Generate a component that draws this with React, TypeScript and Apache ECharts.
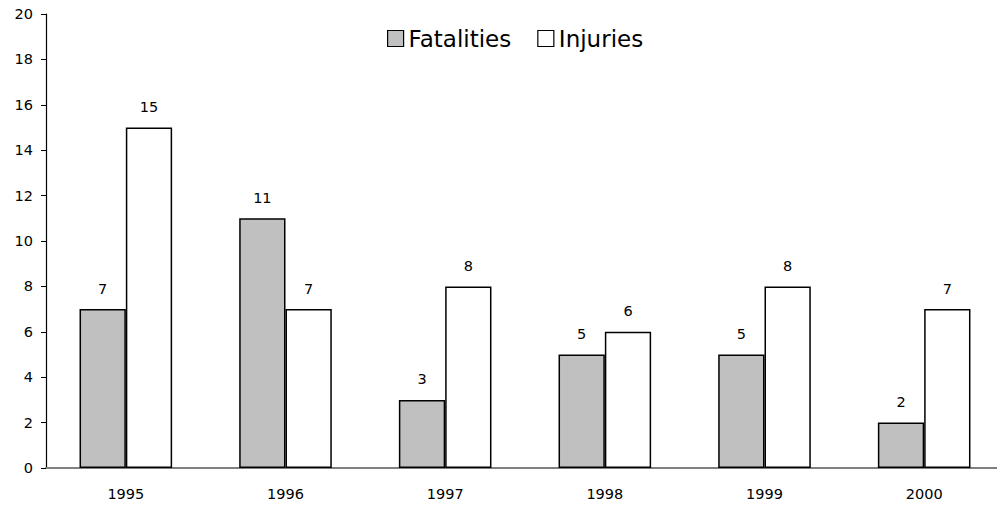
import React, { useEffect, useRef } from "react";
import * as echarts from "echarts";

const years = ["1995", "1996", "1997", "1998", "1999", "2000"];
const fatalities = [7, 11, 3, 5, 5, 2];
const injuries = [15, 7, 8, 6, 8, 7];

const FONT = "'DejaVu Sans', sans-serif";

export default function App() {
  const ref = useRef<HTMLDivElement>(null);
  useEffect(() => {
    const chart = echarts.init(ref.current!, null, { renderer: "svg" });
    chart.setOption({
      animation: false,
      textStyle: { fontFamily: FONT },
      legend: {
        top: 22,
        left: 382,
        icon: "rect",
        itemWidth: 16,
        itemHeight: 16,
        itemGap: 26,
        itemStyle: { borderColor: "#000", borderWidth: 1.2 },
        textStyle: { fontSize: 23, color: "#000", fontFamily: FONT },
        data: ["Fatalities", "Injuries"],
      },
      grid: { left: 46, width: 958, top: 14, bottom: 38, containLabel: false, outerBoundsMode: "none" },
      xAxis: {
        type: "category",
        data: years,
        axisLine: { lineStyle: { color: "#808080", width: 2 } },
        axisTick: { show: false },
        axisLabel: { color: "#000", fontSize: 14.5, margin: 18, fontFamily: FONT },
      },
      yAxis: {
        type: "value",
        min: 0,
        max: 20,
        interval: 2,
        splitLine: { show: false },
        axisLine: { show: true, lineStyle: { color: "#000", width: 1.2 } },
        axisTick: { show: true, length: 5, lineStyle: { color: "#000" } },
        axisLabel: { color: "#000", fontSize: 14.5, margin: 13, fontFamily: FONT },
      },
      series: [
        {
          name: "Fatalities",
          type: "bar",
          data: fatalities,
          barGap: "0%",
          barCategoryGap: "42%",
          itemStyle: { color: "#c0c0c0", borderColor: "#000", borderWidth: 1.5 },
          label: { show: true, position: "top", distance: 13, color: "#000", fontSize: 14.5, fontFamily: FONT },
        },
        {
          name: "Injuries",
          type: "bar",
          data: injuries,
          barGap: "0%",
          barCategoryGap: "42%",
          itemStyle: { color: "#fff", borderColor: "#000", borderWidth: 1.5 },
          label: { show: true, position: "top", distance: 13, color: "#000", fontSize: 14.5, fontFamily: FONT },
        },
      ],
    });
    return () => chart.dispose();
  }, []);
  return <div ref={ref} style={{ width: 997, height: 506, position: "absolute", left: 0, top: 0 }} />;
}
